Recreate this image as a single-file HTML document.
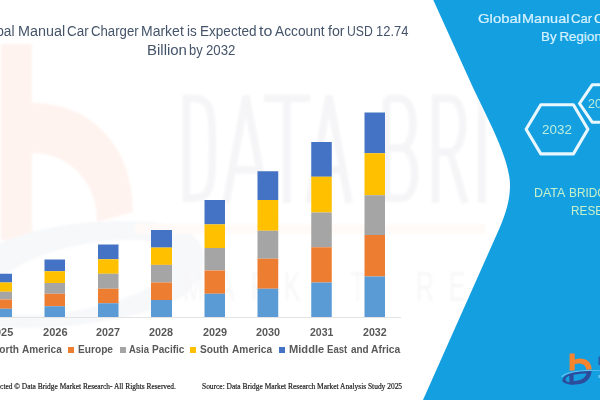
<!DOCTYPE html>
<html><head><meta charset="utf-8">
<style>
html,body{margin:0;padding:0;}
body{width:600px;height:400px;overflow:hidden;background:#fff;position:relative;font-family:"Liberation Sans",sans-serif;}
.abs{position:absolute;white-space:nowrap;}
.t{position:absolute;white-space:nowrap;transform-origin:0 0;line-height:1;}
</style></head><body>
<svg class="abs" style="left:0;top:0" width="600" height="400" viewBox="0 0 600 400">
  <defs><filter id="bl"><feGaussianBlur stdDeviation="1.2"/></filter></defs>
  <g filter="url(#bl)">
  <path d="M1,44 L32,44 L32,103 C95,103 133,150 133,212 L97,222 L97,220 C97,185 72,153 32,153 L32,240 L1,240 Z" fill="#fef3ef"/>
  <path fill-rule="evenodd" d="M-50,300 C-50,250 40,215 150,222 C210,226 215,262 190,290 C160,325 -50,350 -50,300 Z M-10,300 C-10,330 120,312 160,280 C185,258 170,240 130,240 C60,240 -10,270 -10,300 Z" fill="#f7f8fa"/>
  <rect x="135" y="224" width="350" height="10" fill="#fffaf7"/>
  <g fill="none" stroke="#f5f5f7" stroke-width="7.5" stroke-linejoin="miter">
    <path d="M186.5,98.5 V198 H195 C212,198 212.5,180 212.5,148 C212.5,116 212,98.5 195,98.5 Z"/>
    <path d="M226,203 L246,96 L266,203 M233,170 H259"/>
    <path d="M264,98.5 H310 M287,98.5 V203"/>
    <path d="M309,203 L329,96 L349,203 M316,170 H342"/>
    <path d="M386.5,98.5 V198 H402 C419,198 419,150 402,148 H386.5 M402,148 C417,146 417,98.5 400,98.5 H386.5"/>
    <path d="M435.5,203 V98.5 H450 C467,98.5 467,150 450,152 H435.5 M450,152 L465,203"/>
    <path d="M482,94 V203"/>
  </g>
  <text y="301" font-family="Liberation Sans" font-size="42" fill="#f7f7f9" x="305 363 418 473 528 583 693 748" transform="scale(0.6,1)">MARKETRE</text>
  </g>
</svg>
<div class="abs" style="left:0;top:317px;width:401px;height:1px;background:#e3e3e3;"></div>
<svg class="abs" style="left:0;top:0" width="600" height="400" viewBox="0 0 600 400"><rect x="-9" y="273.75" width="21" height="8.75" fill="#4472c4"/><rect x="-9" y="282.5" width="21" height="9.25" fill="#ffc000"/><rect x="-9" y="291.75" width="21" height="7.75" fill="#a5a5a5"/><rect x="-9" y="299.5" width="21" height="9.25" fill="#ed7d31"/><rect x="-9" y="308.75" width="21" height="8.25" fill="#5b9bd5"/><rect x="44.5" y="259.5" width="20.5" height="11.75" fill="#4472c4"/><rect x="44.5" y="271.25" width="20.5" height="11.75" fill="#ffc000"/><rect x="44.5" y="283" width="20.5" height="10.75" fill="#a5a5a5"/><rect x="44.5" y="293.75" width="20.5" height="12.5" fill="#ed7d31"/><rect x="44.5" y="306.25" width="20.5" height="10.75" fill="#5b9bd5"/><rect x="98" y="244.5" width="20.5" height="14.75" fill="#4472c4"/><rect x="98" y="259.25" width="20.5" height="14.5" fill="#ffc000"/><rect x="98" y="273.75" width="20.5" height="15.0" fill="#a5a5a5"/><rect x="98" y="288.75" width="20.5" height="14.5" fill="#ed7d31"/><rect x="98" y="303.25" width="20.5" height="13.75" fill="#5b9bd5"/><rect x="151" y="230" width="21" height="17.599999999999994" fill="#4472c4"/><rect x="151" y="247.6" width="21" height="17.299999999999983" fill="#ffc000"/><rect x="151" y="264.9" width="21" height="17.600000000000023" fill="#a5a5a5"/><rect x="151" y="282.5" width="21" height="17.5" fill="#ed7d31"/><rect x="151" y="300" width="21" height="17" fill="#5b9bd5"/><rect x="204.5" y="200" width="20.5" height="24.400000000000006" fill="#4472c4"/><rect x="204.5" y="224.4" width="20.5" height="23.599999999999994" fill="#ffc000"/><rect x="204.5" y="248" width="20.5" height="22.5" fill="#a5a5a5"/><rect x="204.5" y="270.5" width="20.5" height="23.25" fill="#ed7d31"/><rect x="204.5" y="293.75" width="20.5" height="23.25" fill="#5b9bd5"/><rect x="257.5" y="171.25" width="20.75" height="28.75" fill="#4472c4"/><rect x="257.5" y="200" width="20.75" height="30.75" fill="#ffc000"/><rect x="257.5" y="230.75" width="20.75" height="28.0" fill="#a5a5a5"/><rect x="257.5" y="258.75" width="20.75" height="30.0" fill="#ed7d31"/><rect x="257.5" y="288.75" width="20.75" height="28.25" fill="#5b9bd5"/><rect x="311.25" y="142" width="20.5" height="34.75" fill="#4472c4"/><rect x="311.25" y="176.75" width="20.5" height="35.75" fill="#ffc000"/><rect x="311.25" y="212.5" width="20.5" height="34.75" fill="#a5a5a5"/><rect x="311.25" y="247.25" width="20.5" height="35.25" fill="#ed7d31"/><rect x="311.25" y="282.5" width="20.5" height="34.5" fill="#5b9bd5"/><rect x="364.5" y="112.5" width="20.5" height="40.75" fill="#4472c4"/><rect x="364.5" y="153.25" width="20.5" height="42.0" fill="#ffc000"/><rect x="364.5" y="195.25" width="20.5" height="39.75" fill="#a5a5a5"/><rect x="364.5" y="235" width="20.5" height="41.5" fill="#ed7d31"/><rect x="364.5" y="276.5" width="20.5" height="40.5" fill="#5b9bd5"/></svg>
<svg class="abs" style="left:0;top:0" width="600" height="400" viewBox="0 0 600 400">
  <defs><filter id="gl" x="-20%" y="-20%" width="140%" height="140%"><feGaussianBlur stdDeviation="3"/></filter></defs>
  <path d="M433.3,0 L470,81 C486,116 510,158 510,185 C510,200 506,213 499.6,228 L423,400 L600,400 L600,0 Z" fill="#ffffff" filter="url(#gl)" opacity="0.9"/>
  <path d="M433.3,0 L470,81 C486,116 510,158 510,185 C510,200 506,213 499.6,228 L423,400 L600,400 L600,0 Z" fill="#149fe0"/>
  <path d="M526.1,129.3 L540.8,104.8 L573.4,104.8 L587.9,129.3 L573.4,153.9 L540.8,153.9 Z" fill="none" stroke="#e9f8ff" stroke-width="3.1" stroke-linejoin="round"/>
  <path d="M579.5,103.5 L592.2,84.8 L620,84.8 L620,122.2 L592.2,122.2 Z" fill="none" stroke="#e9f8ff" stroke-width="3.1" stroke-linejoin="round"/>
  <g>
    <path d="M561.8,376.8 C565,372.6 575,370.7 591.8,370.3" fill="none" stroke="#63c1f0" stroke-width="1.3"/>
    <path d="M569.6,353.6 H574.7 V359.6 C583,356.5 591.6,360.5 591.6,369.3 L586.3,369.8 C586,364.5 581,362 574.7,364.2 V370.3 L569.6,370.8 Z" fill="#f4842e"/>
    <path fill-rule="evenodd" d="M562.3,381 C562.5,376 568,373.2 579,371.8 C584,371.2 588,370.9 591.6,370.9 C591.5,376 588,381.5 582,383.6 C577,385 570,385.2 566,383.5 C564,382.7 562.5,382 562.3,381 Z M573.6,374.7 C578,373.9 583,373.5 586.5,373.5 C586,377 582,380.8 573.6,381 Z M569.4,375.7 C567,376.6 565.3,378 565.5,380.3 C566.5,381.6 568,382.1 569.4,382.3 Z" fill="#2c4c9c"/>
    <rect x="598.5" y="356.5" width="2" height="8.5" fill="#2c4c9c" opacity="0.8"/>
    <rect x="591.5" y="370" width="9" height="0.9" fill="#55b9ee"/>
    <rect x="598.5" y="375" width="2" height="3" fill="#6cc4f0"/>
  </g>
</svg>
<div class="t" style="font-family:'Liberation Sans',sans-serif;left:-25.01px;top:25px;font-size:13.8px;color:#44546a;transform:scaleX(0.9900)">Global</div><div class="t" style="font-family:'Liberation Sans',sans-serif;left:18.03px;top:25px;font-size:13.8px;color:#44546a;transform:scaleX(1.0405)">Manual</div><div class="t" style="font-family:'Liberation Sans',sans-serif;left:66.77px;top:25px;font-size:13.8px;color:#44546a;transform:scaleX(0.9741)">Car</div><div class="t" style="font-family:'Liberation Sans',sans-serif;left:90.58px;top:25px;font-size:13.8px;color:#44546a;transform:scaleX(0.9555)">Charger</div><div class="t" style="font-family:'Liberation Sans',sans-serif;left:141.06px;top:25px;font-size:13.8px;color:#44546a;transform:scaleX(1.0146)">Market</div><div class="t" style="font-family:'Liberation Sans',sans-serif;left:187.45px;top:25px;font-size:13.8px;color:#44546a;transform:scaleX(0.9739)">is</div><div class="t" style="font-family:'Liberation Sans',sans-serif;left:200.10px;top:25px;font-size:13.8px;color:#44546a;transform:scaleX(0.9820)">Expected</div><div class="t" style="font-family:'Liberation Sans',sans-serif;left:259.11px;top:25px;font-size:13.8px;color:#44546a;transform:scaleX(1.1576)">to</div><div class="t" style="font-family:'Liberation Sans',sans-serif;left:275.00px;top:25px;font-size:13.8px;color:#44546a;transform:scaleX(0.9950)">Account</div><div class="t" style="font-family:'Liberation Sans',sans-serif;left:327.84px;top:25px;font-size:13.8px;color:#44546a;transform:scaleX(1.0304)">for</div><div class="t" style="font-family:'Liberation Sans',sans-serif;left:347.31px;top:25px;font-size:13.8px;color:#44546a;transform:scaleX(0.8840)">USD</div><div class="t" style="font-family:'Liberation Sans',sans-serif;left:376.26px;top:25px;font-size:13.8px;color:#44546a;transform:scaleX(0.9389)">12.74</div><div class="t" style="font-family:'Liberation Sans',sans-serif;left:147.08px;top:44px;font-size:13.8px;color:#44546a;transform:scaleX(1.0849)">Billion</div><div class="t" style="font-family:'Liberation Sans',sans-serif;left:188.88px;top:44px;font-size:13.8px;color:#44546a;transform:scaleX(0.9394)">by</div><div class="t" style="font-family:'Liberation Sans',sans-serif;left:205.98px;top:44px;font-size:13.8px;color:#44546a;transform:scaleX(0.9573)">2032</div><div class="t" style="font-family:'Liberation Sans',sans-serif;-webkit-text-stroke:0.2px #d6f2ff;left:478.26px;top:12px;font-size:13.4px;color:#d6f2ff;transform:scaleX(1.1135)">Global</div><div class="t" style="font-family:'Liberation Sans',sans-serif;-webkit-text-stroke:0.2px #d6f2ff;left:522.35px;top:12px;font-size:13.4px;color:#d6f2ff;transform:scaleX(1.0787)">Manual</div><div class="t" style="font-family:'Liberation Sans',sans-serif;-webkit-text-stroke:0.2px #d6f2ff;left:571.06px;top:12px;font-size:13.4px;color:#d6f2ff;transform:scaleX(0.9854)">Car</div><div class="t" style="font-family:'Liberation Sans',sans-serif;-webkit-text-stroke:0.2px #d6f2ff;left:594.43px;top:12px;font-size:13.4px;color:#d6f2ff;transform:scaleX(1.0300)">Charger</div><div class="t" style="font-family:'Liberation Sans',sans-serif;-webkit-text-stroke:0.2px #d6f2ff;left:541.35px;top:30px;font-size:13.4px;color:#d6f2ff;transform:scaleX(0.9982)">By</div><div class="t" style="font-family:'Liberation Sans',sans-serif;-webkit-text-stroke:0.2px #d6f2ff;left:559.15px;top:30px;font-size:13.4px;color:#d6f2ff;transform:scaleX(1.0000)">Regions</div><div class="t" style="font-family:'Liberation Sans',sans-serif;left:541.86px;top:123px;font-size:13px;color:#b9eede;transform:scaleX(1.0317)">2032</div><div class="t" style="font-family:'Liberation Sans',sans-serif;left:587.70px;top:97px;font-size:13px;color:#b9eede;transform:scaleX(0.9600)">2025</div><div class="t" style="font-family:'Liberation Sans',sans-serif;left:534.17px;top:186px;font-size:13.6px;color:#c4f0cc;transform:scaleX(0.9152)">DATA</div><div class="t" style="font-family:'Liberation Sans',sans-serif;left:568.92px;top:186px;font-size:13.6px;color:#c4f0cc;transform:scaleX(0.8700)">BRIDGE</div><div class="t" style="font-family:'Liberation Sans',sans-serif;left:571.22px;top:204px;font-size:13.6px;color:#c4f0cc;transform:scaleX(0.8700)">RESEARCH</div><div class="t" style="font-family:'Liberation Sans',sans-serif;font-weight:bold;left:-10.90px;top:328px;font-size:10.3px;color:#595959;transform:scaleX(1.0562)">2025</div><div class="t" style="font-family:'Liberation Sans',sans-serif;font-weight:bold;left:42.60px;top:328px;font-size:10.3px;color:#595959;transform:scaleX(1.0757)">2026</div><div class="t" style="font-family:'Liberation Sans',sans-serif;font-weight:bold;left:96.31px;top:328px;font-size:10.3px;color:#595959;transform:scaleX(1.0441)">2027</div><div class="t" style="font-family:'Liberation Sans',sans-serif;font-weight:bold;left:149.31px;top:328px;font-size:10.3px;color:#595959;transform:scaleX(1.0472)">2028</div><div class="t" style="font-family:'Liberation Sans',sans-serif;font-weight:bold;left:202.61px;top:328px;font-size:10.3px;color:#595959;transform:scaleX(1.0531)">2029</div><div class="t" style="font-family:'Liberation Sans',sans-serif;font-weight:bold;left:255.91px;top:328px;font-size:10.3px;color:#595959;transform:scaleX(1.0531)">2030</div><div class="t" style="font-family:'Liberation Sans',sans-serif;font-weight:bold;left:309.62px;top:328px;font-size:10.3px;color:#595959;transform:scaleX(1.0247)">2031</div><div class="t" style="font-family:'Liberation Sans',sans-serif;font-weight:bold;left:362.71px;top:328px;font-size:10.3px;color:#595959;transform:scaleX(1.0350)">2032</div><div class="t" style="font-family:'Liberation Sans',sans-serif;font-weight:bold;left:-8.35px;top:345px;font-size:10.3px;color:#595959;transform:scaleX(0.9850)">North</div><div class="t" style="font-family:'Liberation Sans',sans-serif;font-weight:bold;left:22.05px;top:345px;font-size:10.3px;color:#595959;transform:scaleX(0.9802)">America</div><div class="t" style="font-family:'Liberation Sans',sans-serif;font-weight:bold;left:78.06px;top:345px;font-size:10.3px;color:#595959;transform:scaleX(0.9862)">Europe</div><div class="t" style="font-family:'Liberation Sans',sans-serif;font-weight:bold;left:128.57px;top:345px;font-size:10.3px;color:#595959;transform:scaleX(0.9202)">Asia</div><div class="t" style="font-family:'Liberation Sans',sans-serif;font-weight:bold;left:152.07px;top:345px;font-size:10.3px;color:#595959;transform:scaleX(0.9774)">Pacific</div><div class="t" style="font-family:'Liberation Sans',sans-serif;font-weight:bold;left:199.93px;top:345px;font-size:10.3px;color:#595959;transform:scaleX(0.9849)">South</div><div class="t" style="font-family:'Liberation Sans',sans-serif;font-weight:bold;left:231.95px;top:345px;font-size:10.3px;color:#595959;transform:scaleX(0.9877)">America</div><div class="t" style="font-family:'Liberation Sans',sans-serif;font-weight:bold;left:288.69px;top:345px;font-size:10.3px;color:#595959;transform:scaleX(1.0794)">Middle</div><div class="t" style="font-family:'Liberation Sans',sans-serif;font-weight:bold;left:326.80px;top:345px;font-size:10.3px;color:#595959;transform:scaleX(0.9293)">East</div><div class="t" style="font-family:'Liberation Sans',sans-serif;font-weight:bold;left:350.56px;top:345px;font-size:10.3px;color:#595959;transform:scaleX(0.9669)">and</div><div class="t" style="font-family:'Liberation Sans',sans-serif;font-weight:bold;left:371.15px;top:345px;font-size:10.3px;color:#595959;transform:scaleX(1.0034)">Africa</div><div class="t" style="font-family:'Liberation Serif',serif;-webkit-text-stroke:0.2px #1a1a1a;left:-23.47px;top:383px;font-size:8.3px;color:#1a1a1a;transform:scaleX(0.8930)">© Protected © Data Bridge Market Research- All Rights Reserved.</div><div class="t" style="font-family:'Liberation Serif',serif;-webkit-text-stroke:0.2px #1a1a1a;left:202.05px;top:383px;font-size:8.3px;color:#1a1a1a;transform:scaleX(0.8971)">Source: Data Bridge Market Research Market Analysis Study 2025</div>
<div class="abs" style="left:68.3px;top:346.5px;width:6.2px;height:6.2px;background:#ed7d31"></div><div class="abs" style="left:119.5px;top:346.5px;width:6.2px;height:6.2px;background:#a5a5a5"></div><div class="abs" style="left:190.3px;top:346.5px;width:6.2px;height:6.2px;background:#ffc000"></div><div class="abs" style="left:278.8px;top:346.5px;width:6.2px;height:6.2px;background:#4472c4"></div>
</body></html>
